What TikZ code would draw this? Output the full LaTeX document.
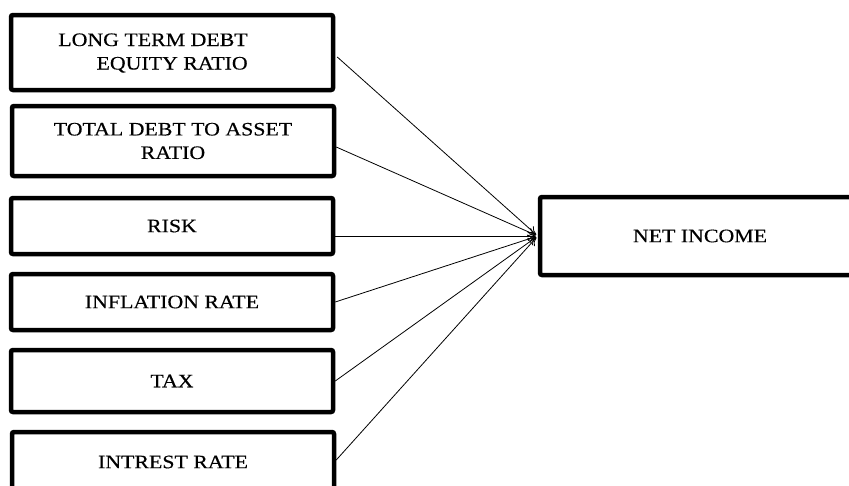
\documentclass[tikz,border=0pt]{standalone}
\usepackage{fontspec}
\setmainfont{Liberation Serif}[FakeStretch=1.15,FakeBold=0.4]
\usetikzlibrary{arrows.meta,calc}
\begin{document}
\begin{tikzpicture}[x=1pt,y=-1pt,
  box/.style={draw=black, line width=4.5pt, rounded corners=2pt, fill=white,
    minimum width=322pt, inner sep=0pt, font=\fontsize{19}{23.5}\selectfont, align=center},
  lbl/.style={inner sep=0pt, font=\fontsize{19}{23.5}\selectfont},
  link/.style={line width=0.8pt, -{To[length=8pt,width=9pt]}, shorten >=2pt}]
\useasboundingbox (0,0) rectangle (849,485);
\clip (0,0) rectangle (849,485);
\fill[white] (0,0) rectangle (849,485);
\node[box, minimum height=75pt] (ltd) at (172,52.5) {};
\node[lbl, align=right] (ltdtext) at (153,53) {LONG TERM DEBT\\EQUITY RATIO};
\node[box, minimum height=70pt] (tda) at (173,141) {TOTAL DEBT TO ASSET\\RATIO};
\node[box, minimum height=56pt] (risk) at (172,226) {RISK};
\node[box, minimum height=56pt] (infl) at (172,302) {INFLATION RATE};
\node[box, minimum height=62pt] (tax) at (172,381) {TAX};
\node[box, minimum height=60pt] (int) at (173,462) {INTREST RATE};
\node[box, minimum width=320pt, minimum height=78pt] (net) at (700,236) {NET INCOME};
\draw[link] ($(ltd.east)+(2,4.5)$) -- (net.west);
\draw[link] ($(tda.east)+(0,6)$) -- (net.west);
\draw[link] (risk.east |- net.west) -- (net.west);
\draw[link] (infl.east) -- (net.west);
\draw[link] (tax.east) -- (net.west);
\draw[link] ($(int.east)+(0,-2)$) -- (net.west);
\end{tikzpicture}
\end{document}
